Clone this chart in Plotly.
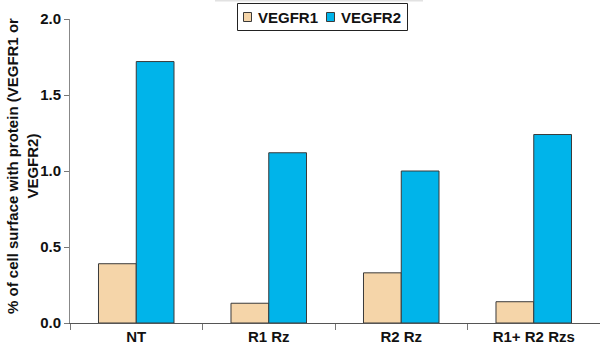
import plotly.graph_objects as go

categories = ["NT", "R1 Rz", "R2 Rz", "R1+ R2 Rzs"]
vegfr1 = [0.39, 0.13, 0.33, 0.14]
vegfr2 = [1.72, 1.12, 1.00, 1.24]
series_names = ["VEGFR1", "VEGFR2"]
series_colors = ["#F5D5A9", "#00B4EA"]
ytick_vals = [0.0, 0.5, 1.0, 1.5, 2.0]
ytick_text = ["0.0", "0.5", "1.0", "1.5", "2.0"]
y_title = "% of cell surface with protein (VEGFR1 or<br>VEGFR2)"

FAM = "Liberation Sans, Arial, sans-serif"
font = dict(family=FAM, size=15, color="#111111")

fig = go.Figure()
for name, vals, col in zip(series_names, [vegfr1, vegfr2], series_colors):
    fig.add_trace(go.Bar(x=categories, y=vals, name=name, showlegend=False,
                         marker=dict(color=col, line=dict(color="#3a3a3a", width=1))))

# plot area in pixels: x 70..600, y 19..323
def px(x):
    return (x - 70) / 530.0

def py(y):
    return (323 - y) / 304.0

shapes = [
    dict(type="line", xref="paper", yref="paper", x0=px(215), x1=px(423), y0=py(0.5), y1=py(0.5),
         line=dict(color="#e2e2e2", width=2)),
    dict(type="rect", xref="paper", yref="paper", x0=px(237.5), x1=px(407.5), y0=py(30.5), y1=py(3.5),
         line=dict(color="#222222", width=1), fillcolor="white"),
]
annotations = []
legend_sq_x = [243, 326]
for sx, name, col in zip(legend_sq_x, series_names, series_colors):
    shapes.append(dict(type="rect", xref="paper", yref="paper", x0=px(sx + 0.5), x1=px(sx + 8.5),
                       y0=py(21.5), y1=py(12.5), line=dict(color="#3a3a3a", width=1), fillcolor=col))
    annotations.append(dict(xref="paper", yref="paper", x=px(sx + 13), y=py(17), xanchor="left",
                            yanchor="middle", showarrow=False, text="<b>%s</b>" % name,
                            font=dict(family=FAM, size=15, color="#111111")))

annotations.append(dict(xref="paper", yref="paper", x=px(22), y=py(166), xanchor="center",
                        yanchor="middle", showarrow=False, textangle=-90, align="center",
                        text="<b>%s</b>" % y_title,
                        font=dict(family=FAM, size=15, color="#111111")))

fig.update_layout(
    width=600, height=348,
    margin=dict(l=70, r=0, t=19, b=25),
    paper_bgcolor="white", plot_bgcolor="white",
    barmode="group", bargap=0.43, bargroupgap=0,
    font=font,
    showlegend=False,
    shapes=shapes, annotations=annotations,
    xaxis=dict(type="category", showline=True, linecolor="#555555", linewidth=1,
               ticks="outside", tickson="boundaries", ticklen=6, tickcolor="#777777",
               tickfont=dict(size=15), showgrid=False, zeroline=False,
               tickprefix="<b>", ticksuffix="</b>"),
    yaxis=dict(range=[0, 2], tickvals=ytick_vals, ticktext=["<b>%s</b>" % t for t in ytick_text],
               showline=True, linecolor="#888888", linewidth=1,
               ticks="outside", ticklen=5, tickcolor="#777777",
               tickfont=dict(size=15), showgrid=False, zeroline=False),
)

fig.write_html("out.html")
